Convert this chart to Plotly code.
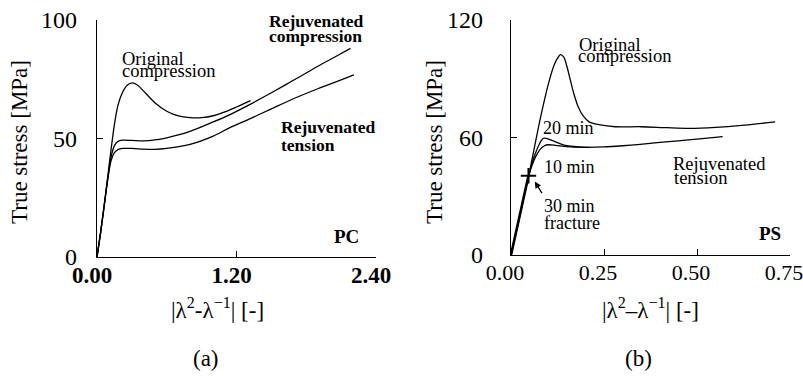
import plotly.graph_objects as go

W, H = 803, 376

# ---------------- data: panel (a) PC ----------------
pc_orig_x = [0, 0.03, 0.06, 0.09, 0.12, 0.15, 0.18, 0.22, 0.26, 0.30, 0.35, 0.42, 0.50, 0.60, 0.70, 0.80, 0.90, 1.00, 1.10, 1.20, 1.32]
pc_orig_y = [0, 10, 21, 33, 45, 56, 64, 69.5, 72.5, 73.5, 72.5, 69, 65, 61.5, 59.5, 58.8, 58.8, 59.6, 61.2, 63.3, 66]

pc_rejc_x = [0, 0.03, 0.06, 0.09, 0.12, 0.15, 0.18, 0.22, 0.30, 0.40, 0.50, 0.60, 0.80, 1.00, 1.14, 1.30, 1.50, 1.72, 1.90, 2.05, 2.18]
pc_rejc_y = [0, 10, 21, 32, 42, 47, 48.8, 49.3, 49.2, 49.0, 49.4, 50.3, 53, 57, 60, 64, 69.3, 75.4, 80.5, 84.5, 88]

pc_rejt_x = [0, 0.03, 0.06, 0.09, 0.12, 0.15, 0.18, 0.22, 0.30, 0.40, 0.50, 0.60, 0.80, 1.00, 1.14, 1.30, 1.50, 1.72, 1.90, 2.05, 2.21]
pc_rejt_y = [0, 10, 21, 32, 40.5, 44, 45.3, 45.8, 45.8, 45.5, 45.4, 45.8, 47.5, 51, 54.5, 58, 62.5, 67.4, 71, 73.8, 76.8]

pc_xticks = [0, 1.2, 2.4]
pc_xticktext = ["0.00", "1.20", "2.40"]
pc_yticks = [0, 50, 100]

# ---------------- data: panel (b) PS ----------------
ps_orig_x = [0, 0.02, 0.047, 0.078, 0.10, 0.115, 0.125, 0.133, 0.142, 0.15, 0.16, 0.168, 0.18, 0.194, 0.21, 0.24, 0.28, 0.35, 0.42, 0.48, 0.55, 0.62, 0.71]
ps_orig_y = [0, 17, 40, 69, 87, 96.5, 100.5, 102.3, 101, 96.5, 89, 83, 76, 71, 68, 66.4, 65.5, 65.5, 65, 64.7, 65.2, 66.2, 68]

ps_20_x = [0, 0.02, 0.047, 0.06, 0.07, 0.08, 0.087, 0.095, 0.11, 0.13, 0.15, 0.18, 0.21]
ps_20_y = [0, 17, 40, 49, 54, 58, 59.6, 59.6, 58.5, 57, 55.8, 55.2, 55]

ps_10_x = [0, 0.02, 0.047, 0.06, 0.07, 0.08, 0.09, 0.10, 0.12, 0.15, 0.20, 0.25, 0.30, 0.347, 0.40, 0.45, 0.50, 0.569]
ps_10_y = [0, 17, 40, 47.5, 51.5, 54.3, 55.8, 56.3, 56, 55.3, 55, 55.2, 55.8, 56.5, 57.5, 58.3, 59.2, 60.4]

ps_30_x = [0, 0.047]
ps_30_y = [0, 40.5]

ps_xticks = [0, 0.25, 0.5, 0.75]
ps_xticktext = ["0.00", "0.25", "0.50", "0.75"]
ps_yticks = [0, 60, 120]

FONT = "Liberation Serif"

def px(x):
    return x / W

def py(y):
    return 1 - y / H

fig = go.Figure()

line = dict(color="black", width=1.3)
for xs, ys in [(pc_orig_x, pc_orig_y), (pc_rejc_x, pc_rejc_y), (pc_rejt_x, pc_rejt_y)]:
    fig.add_trace(go.Scatter(x=xs, y=ys, mode="lines", line=dict(line, shape="spline", smoothing=0.8),
                             xaxis="x", yaxis="y", showlegend=False, hoverinfo="skip"))
for xs, ys in [(ps_orig_x, ps_orig_y), (ps_20_x, ps_20_y), (ps_10_x, ps_10_y)]:
    fig.add_trace(go.Scatter(x=xs, y=ys, mode="lines", line=dict(line, shape="spline", smoothing=0.8),
                             xaxis="x2", yaxis="y2", showlegend=False, hoverinfo="skip"))
fig.add_trace(go.Scatter(x=ps_30_x, y=ps_30_y, mode="lines", line=dict(color="black", width=2.6),
                         xaxis="x2", yaxis="y2", showlegend=False, hoverinfo="skip"))
fig.add_trace(go.Scatter(x=ps_30_x[-1:], y=ps_30_y[-1:], mode="markers",
                         marker=dict(symbol="cross-thin", size=11, line=dict(color="black", width=2)),
                         xaxis="x2", yaxis="y2", showlegend=False, hoverinfo="skip"))

axcommon = dict(showgrid=False, zeroline=False, showline=True, linecolor="black", linewidth=1.2,
                ticks="inside", ticklen=6, tickwidth=1.2, tickcolor="black", fixedrange=True,
                automargin=False, ticklabeloverflow="allow")

fig.update_layout(
    width=W, height=H, margin=dict(l=0, r=0, t=0, b=0, autoexpand=False),
    paper_bgcolor="white", plot_bgcolor="white",
    font=dict(family=FONT, color="black"),
    xaxis=dict(axcommon, domain=[px(97), px(376)], range=[0, 2.4], anchor="y",
               tickvals=pc_xticks, ticktext=["<b>%s</b>" % t for t in pc_xticktext],
               tickfont=dict(size=23, family=FONT), ticklabelshift=-5, ticklabelstandoff=-3),
    yaxis=dict(axcommon, domain=[py(257), py(20)], range=[0, 100], anchor="x",
               tickvals=pc_yticks, tickfont=dict(size=24, family=FONT), ticklabelstandoff=14),
    xaxis2=dict(axcommon, domain=[px(511), px(790)], range=[0, 0.75], anchor="y2",
                tickvals=ps_xticks, ticktext=ps_xticktext,
                tickfont=dict(size=22, family=FONT), ticklabelshift=-6, ticklabelstandoff=-3),
    yaxis2=dict(axcommon, domain=[py(255), py(20)], range=[0, 120], anchor="x2",
                tickvals=ps_yticks, tickfont=dict(size=24, family=FONT), ticklabelstandoff=22),
)

ann = []
def text(x, y, s, size=18, xanchor="left", angle=0):
    ann.append(dict(x=px(x), y=py(y), xref="paper", yref="paper", text=s, showarrow=False,
                    xanchor=xanchor, yanchor="middle", textangle=angle,
                    font=dict(size=size, family=FONT, color="black")))

# axis titles and panel letters
text(19, 142, "True stress [MPa]", 23, "center", -90)
text(434, 142, "True stress [MPa]", 23, "center", -90)
text(218, 308, "|λ<sup>2</sup>-λ<sup>−1</sup>| [-]", 23, "center")
text(650, 308, "|λ<sup>2</sup>–λ<sup>−1</sup>| [-]", 23, "center")
text(206, 358, "(a)", 23, "center")
text(638, 358, "(b)", 23, "center")

# panel (a) labels
text(120, 59, "Original", 18.5)
text(120, 71, "compression", 18.5)
text(267, 21, "<b>Rejuvenated</b>", 17.5)
text(267, 36, "<b>compression</b>", 17.5)
text(279, 127, "<b>Rejuvenated</b>", 17.5)
text(279, 145, "<b>tension</b>", 17.5)
text(346, 236, "<b>PC</b>", 19, "center")

# panel (b) labels
text(577, 45, "Original", 18.5)
text(576, 56, "compression", 18.5)
text(541, 128, "20 min", 18)
text(542, 167, "10 min", 18)
text(542, 206, "30 min", 18)
text(542, 223, "fracture", 18)
text(671, 164, "Rejuvenated", 18.5)
text(672, 178, "tension", 18.5)
text(770, 233, "<b>PS</b>", 19, "center")

# arrow to fracture point
ann.append(dict(x=0.064, y=37.5, xref="x2", yref="y2", ax=8, ay=13, axref="pixel", ayref="pixel",
                text="", showarrow=True, arrowhead=2, arrowsize=1, arrowwidth=1.3, arrowcolor="black"))

fig.update_layout(annotations=ann)
fig.write_html("out.html")
